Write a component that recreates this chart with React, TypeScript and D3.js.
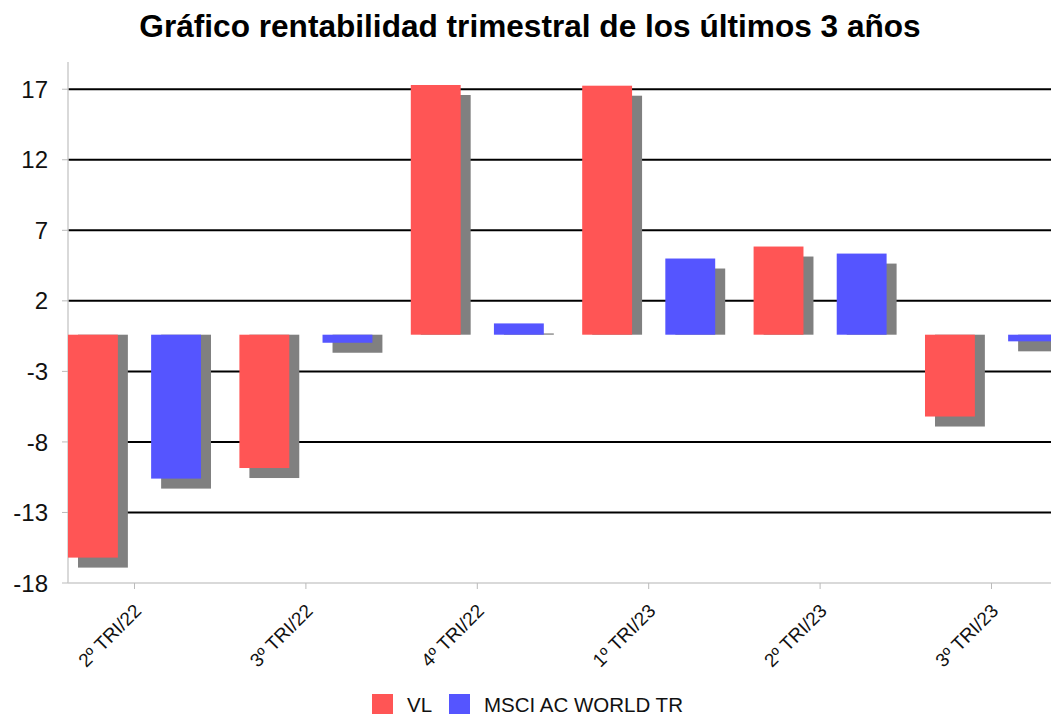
import React from "react";
import * as d3 from "d3";

// quarters shown (chart is cut off at the right edge)
const categories = ["2º TRI/22", "3º TRI/22", "4º TRI/22", "1º TRI/23", "2º TRI/23", "3º TRI/23"];
const seriesNames = ["VL", "MSCI AC WORLD TR"];
const vlValues = [-15.8, -9.45, 17.7, 17.65, 6.25, -5.8];
const msciValues = [-10.2, -0.57, 0.8, 5.4, 5.75, -0.47];
const seriesColors = ["#ff5555", "#5555ff"];

// axis ticks sit at odd offsets, labels are rounded
const yTickValues = [-17.6, -12.6, -7.6, -2.6, 2.4, 7.4, 12.4, 17.4];
const yTickLabels = ["-18", "-13", "-8", "-3", "2", "7", "12", "17"];

const title = "Gráfico rentabilidad trimestral de los últimos 3 años";

const width = 1051;
const height = 718;
const plotLeft = 68;
const plotTop = 62;
const plotBottom = 583;
const shadow = 10;

export default function App() {
  const x = d3.scaleBand<string>().domain(categories).range([plotLeft, 1058]).paddingInner(0.224).paddingOuter(0);
  const xs = d3.scaleBand<string>().domain(seriesNames).range([0, x.bandwidth()]).paddingInner(0.4);
  const y = d3.scaleLinear().domain([-17.6, 19.33]).range([plotBottom, plotTop]);
  const y0 = y(0);

  const rows = categories.map((c, i) => ({ cat: c, vals: [vlValues[i], msciValues[i]] }));

  const font = "'Liberation Sans', Arial, sans-serif";

  return (
    <svg width={width} height={height} style={{ position: "absolute", left: 0, top: 0, background: "#fff" }} fontFamily={font}>
      <text x={530} y={37} textAnchor="middle" fontSize={31.6} fontWeight="bold" fill="#000">{title}</text>

      {/* grid lines */}
      {yTickValues.slice(1).map(t => (
        <line key={t} x1={plotLeft} x2={width} y1={y(t)} y2={y(t)} stroke="#000" strokeWidth={2} />
      ))}

      {/* axes */}
      <line x1={plotLeft} x2={plotLeft} y1={plotTop} y2={plotBottom} stroke="#cccccc" strokeWidth={1.5} />
      <line x1={plotLeft} x2={width} y1={plotBottom} y2={plotBottom} stroke="#cccccc" strokeWidth={1.5} />
      {yTickValues.map((t, i) => (
        <g key={t}>
          <line x1={plotLeft - 6} x2={plotLeft} y1={y(t)} y2={y(t)} stroke="#bbbbbb" />
          <text x={48} y={y(t)} dy="0.36em" textAnchor="end" fontSize={24} fill="#111">{yTickLabels[i]}</text>
        </g>
      ))}

      {/* shadows then bars */}
      {rows.map(r => (
        <g key={r.cat} transform={`translate(${x(r.cat)},0)`}>
          {r.vals.map((v, j) => {
            const bx = xs(seriesNames[j])!;
            const yv = y(v);
            const top = v >= 0 ? yv + shadow : y0;
            const bottom = v >= 0 ? y0 : yv + shadow;
            return <rect key={j} x={bx + shadow} y={top} width={xs.bandwidth()} height={Math.max(0, bottom - top)} fill="#808080" />;
          })}
          {r.vals.map((v, j) => {
            const bx = xs(seriesNames[j])!;
            const yv = y(v);
            return <rect key={"b" + j} x={bx} y={Math.min(yv, y0)} width={xs.bandwidth()} height={Math.abs(yv - y0)} fill={seriesColors[j]} />;
          })}
        </g>
      ))}

      {/* category ticks and rotated labels */}
      {categories.map(c => {
        const cx = x(c)! + x.bandwidth() / 2;
        return (
          <g key={c}>
            <line x1={cx} x2={cx} y1={plotBottom} y2={plotBottom + 6} stroke="#bbbbbb" />
            <text transform={`translate(${cx + 8},612) rotate(-45)`} textAnchor="end" fontSize={19} fill="#111">{c}</text>
          </g>
        );
      })}

      {/* legend */}
      {seriesNames.map((s, i) => {
        const lx = i === 0 ? 372 : 449;
        return (
          <g key={s}>
            <rect x={lx} y={694} width={21} height={20} fill={seriesColors[i]} />
            <text x={lx + 35} y={712} fontSize={20.5} fill="#111">{s}</text>
          </g>
        );
      })}
    </svg>
  );
}
